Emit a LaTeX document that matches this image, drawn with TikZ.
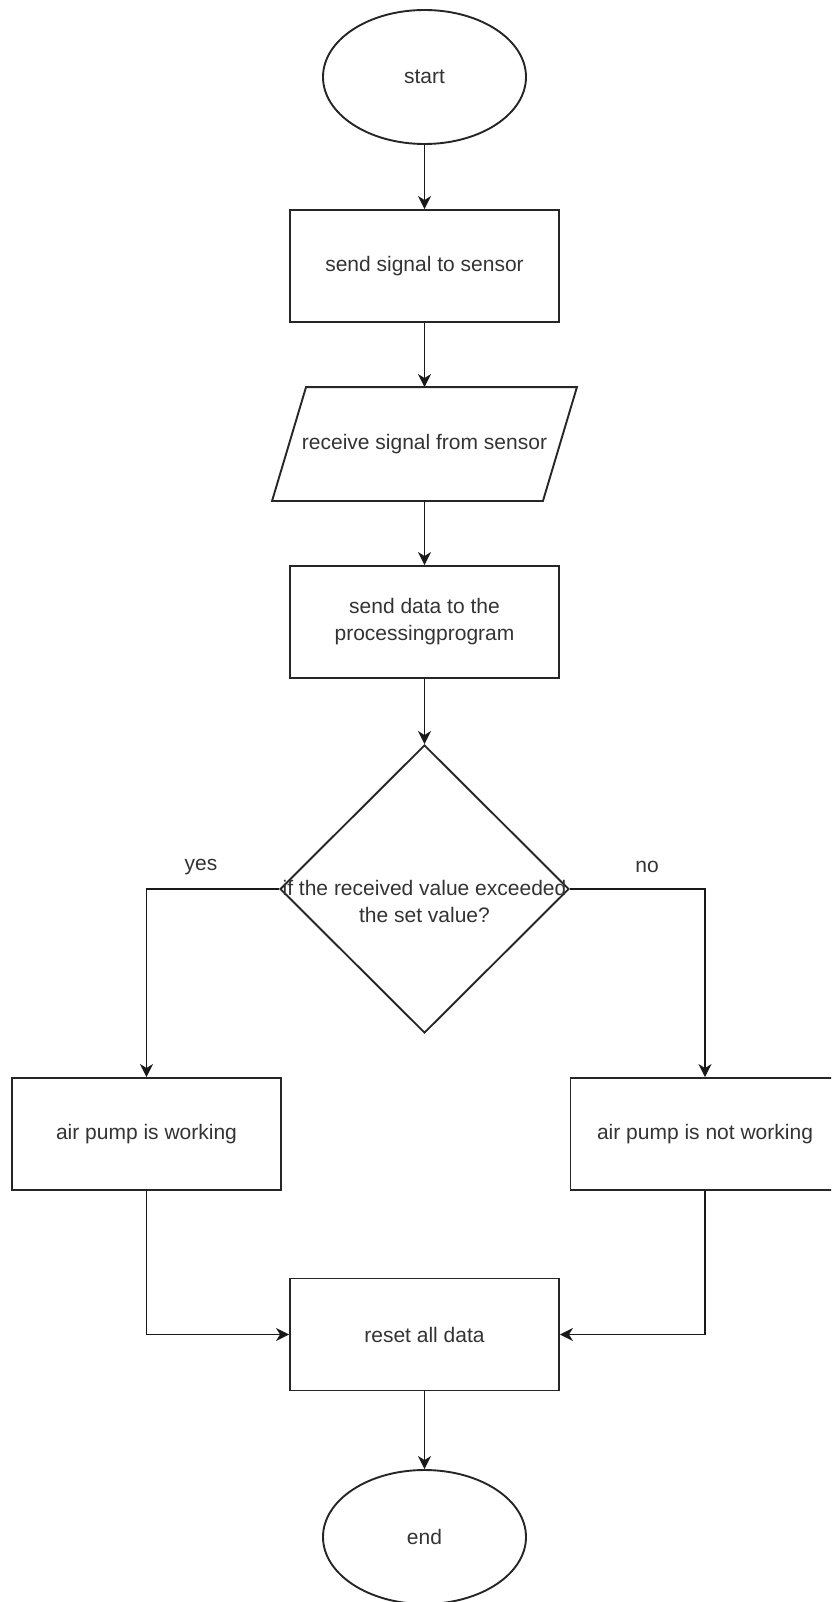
\documentclass[tikz,border=0pt]{standalone}
\usepackage{fontspec}
\setmainfont{Liberation Sans}
\usetikzlibrary{shapes.geometric,arrows.meta}
\newcommand\dfont{\fontsize{21}{27}\selectfont}
\begin{document}
\begin{tikzpicture}[x=1pt,y=-1pt,
  shapeline/.style={draw=black!85, line width=1.9pt},
  proc/.style={rectangle, shapeline, minimum width=269pt, minimum height=112pt, inner sep=0pt, font=\dfont, text=black!80, align=center},
  term/.style={ellipse, shapeline, minimum width=203pt, minimum height=134pt, inner sep=0pt, font=\dfont, text=black!80},
  conn/.style={draw=black!90, line width=1.9pt, -{Stealth[length=13pt,width=13pt,inset=4pt]}},
  lbl/.style={font=\dfont, text=black!80, inner sep=0pt}
]
\useasboundingbox (0,0) rectangle (831,1602);
\clip (0,0) rectangle (831,1602);

\node[term] (start) at (424.5,77) {start};
\node[proc] (s1) at (424.5,266) {send signal to sensor};
\node[proc, draw=none] (recv) at (424.5,444) {receive signal from sensor};
\draw[shapeline] ([xshift=17pt]recv.north west) -- ([xshift=17pt]recv.north east)
  -- ([xshift=-17pt]recv.south east) -- ([xshift=-17pt]recv.south west) -- cycle;
\node[proc] (s2) at (424.5,622) {send data to the\\processingprogram};
\node[diamond, shapeline, minimum width=289pt, minimum height=288pt, inner sep=0pt] (dec) at (424.5,889) {};
\node[lbl, align=center] (qtext) at (424.5,901) {if the received value exceeded\\the set value?};
\node[proc] (yesbox) at (146.5,1134) {air pump is working};
\node[proc] (nobox) at (705,1134) {air pump is not working};
\node[proc] (reset) at (424.5,1334.5) {reset all data};
\node[term] (end) at (424.5,1537) {end};
\node[lbl] (yes) at (201,867) {yes};
\node[lbl] (no) at (647,867) {no};

\draw[conn] (start) -- (s1);
\draw[conn] (s1) -- (recv);
\draw[conn] (recv) -- (s2);
\draw[conn] (s2) -- (dec);
\draw[conn] (dec.west) -| (yesbox.north);
\draw[conn] (dec.east) -| (nobox.north);
\draw[conn] (yesbox.south) |- (reset.west);
\draw[conn] (nobox.south) |- (reset.east);
\draw[conn] (reset) -- (end);
\end{tikzpicture}
\end{document}
